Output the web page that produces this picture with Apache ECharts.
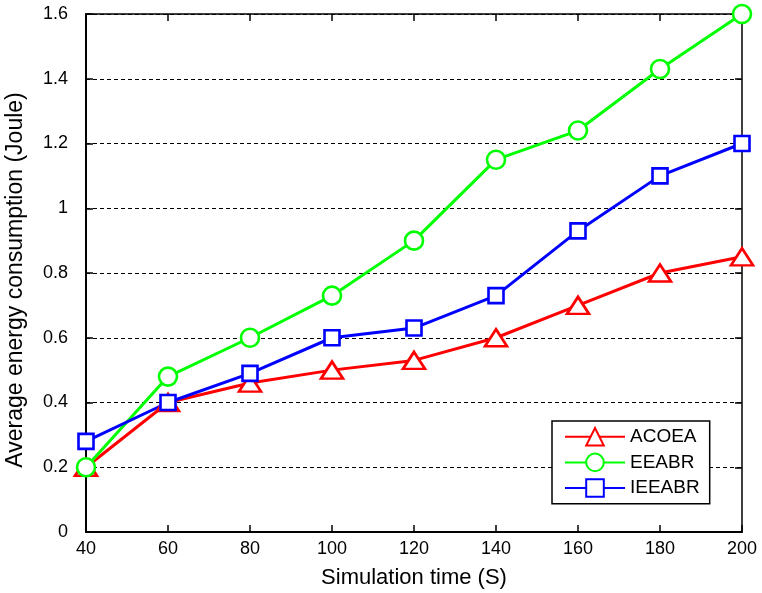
<!DOCTYPE html>
<html>
<head>
<meta charset="utf-8">
<script src="https://cdn.jsdelivr.net/npm/echarts@6/dist/echarts.min.js"></script>
<style>html,body{margin:0;padding:0;background:#fff}#c{width:762px;height:593px}</style>
</head>
<body>
<div id="c"></div>
<script>
var xValues = [40, 60, 80, 100, 120, 140, 160, 180, 200];
var acoea  = [0.2, 0.4, 0.46, 0.5, 0.53, 0.6, 0.7, 0.8, 0.85];
var eeabr  = [0.2, 0.48, 0.6, 0.73, 0.9, 1.15, 1.24, 1.43, 1.6];
var ieeabr = [0.28, 0.4, 0.49, 0.6, 0.63, 0.73, 0.93, 1.1, 1.2];
var seriesNames = ['ACOEA', 'EEABR', 'IEEABR'];

function pairs(vals) { return xValues.map(function (x, i) { return [x, vals[i]]; }); }
var FONT = '"Liberation Sans", Arial, sans-serif';
var chart = echarts.init(document.getElementById('c'));
function mk(name, vals, color, symbol, size) {
  return {
    name: name, type: 'line', data: pairs(vals), clip: false,
    symbol: symbol, symbolSize: size, showAllSymbol: true,
    lineStyle: { color: color, width: 3 },
    itemStyle: { color: '#fff', borderColor: color, borderWidth: 2.6 },
    emphasis: { disabled: true }, animation: false
  };
}
chart.setOption({
  backgroundColor: '#fff',
  animation: false,
  grid: { left: 86, right: 20, top: 14, bottom: 61, outerBoundsMode: 'none', containLabel: false },
  legend: {
    left: 552, top: 421,
    orient: 'vertical',
    backgroundColor: '#fff',
    borderColor: '#000', borderWidth: 1.5, borderRadius: 0,
    padding: [6, 10, 6, 12],
    itemWidth: 60, itemHeight: 22, itemGap: 6,
    textStyle: { fontFamily: FONT, fontSize: 19, color: '#000' },
    data: seriesNames
  },
  xAxis: [{
    type: 'value', min: 40, max: 200, interval: 20,
    name: 'Simulation time (S)', nameLocation: 'middle', nameGap: 35,
    nameTextStyle: { fontFamily: FONT, fontSize: 22, color: '#000' },
    axisLine: { show: true, lineStyle: { color: '#000', width: 2 } },
    axisTick: { show: true, inside: true, length: 7, lineStyle: { color: '#000', width: 1.5 } },
    axisLabel: { fontFamily: FONT, fontSize: 18, color: '#000', margin: 8 },
    splitLine: { show: false }
  }, {
    type: 'value', min: 40, max: 200, interval: 20, position: 'top',
    axisLine: { show: true, onZero: false, lineStyle: { color: '#000', width: 1.5 } },
    axisTick: { show: true, inside: true, length: 7, lineStyle: { color: '#000', width: 1.5 } },
    axisLabel: { show: false }, splitLine: { show: false }
  }],
  yAxis: [{
    type: 'value', min: 0, max: 1.6, interval: 0.2,
    name: 'Average energy consumption (Joule)', nameLocation: 'middle', nameGap: 59,
    nameTextStyle: { fontFamily: FONT, fontSize: 23, color: '#000', padding: [0, 14, 0, 0] },
    axisLine: { show: true, lineStyle: { color: '#000', width: 2 } },
    axisTick: { show: true, inside: true, length: 7, lineStyle: { color: '#000', width: 1.5 } },
    axisLabel: { fontFamily: FONT, fontSize: 18, color: '#000', margin: 18 },
    splitLine: { show: true, lineStyle: { color: '#000', width: 1, type: [4, 3] } }
  }, {
    type: 'value', min: 0, max: 1.6, interval: 0.2, position: 'right',
    axisLine: { show: true, onZero: false, lineStyle: { color: '#000', width: 1.5 } },
    axisTick: { show: true, inside: true, length: 7, lineStyle: { color: '#000', width: 1.5 } },
    axisLabel: { show: false }, splitLine: { show: false }
  }],
  series: [
    mk(seriesNames[0], acoea, '#ff0000', 'triangle', [22, 17]),
    mk(seriesNames[1], eeabr, '#00ff00', 'circle', 18),
    mk(seriesNames[2], ieeabr, '#0000ff', 'rect', 15)
  ]
});
</script>
</body>
</html>
